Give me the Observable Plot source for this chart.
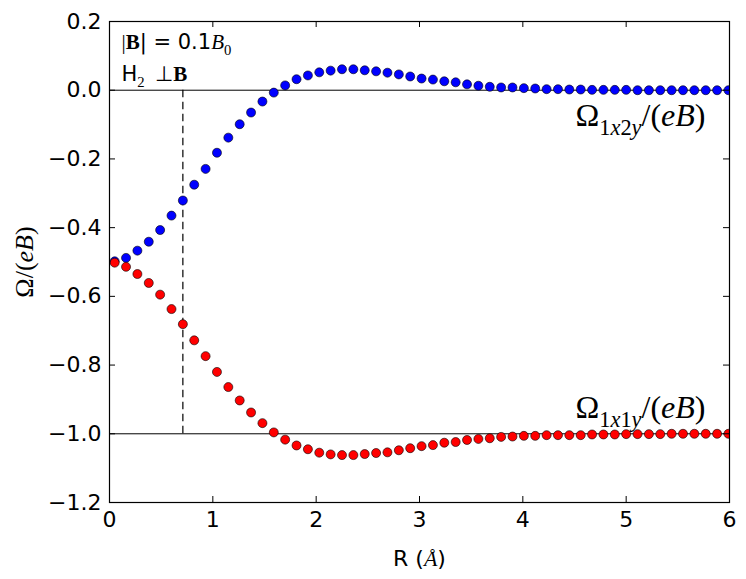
<!DOCTYPE html>
<html><head><meta charset="utf-8">
<script src="https://cdn.jsdelivr.net/npm/d3@7"></script>
<script src="https://cdn.jsdelivr.net/npm/@observablehq/plot@0.6"></script>
<style>body{margin:0;background:#fff} svg{display:block}</style>
</head><body><div id="chart"></div>
<script>
// Bond length R (Å)
const R = [0.05,0.16,0.27,0.38,0.49,0.60,0.71,0.82,0.93,1.04,1.15,1.26,1.37,1.48,1.59,1.70,1.81,1.92,2.03,2.14,2.25,2.36,2.47,2.58,2.69,2.80,2.91,3.02,3.13,3.24,3.35,3.46,3.57,3.68,3.79,3.90,4.01,4.12,4.23,4.34,4.45,4.56,4.67,4.78,4.89,5.00,5.11,5.22,5.33,5.44,5.55,5.66,5.77,5.88,5.99];
// Omega_1x2y/(eB) (blue)
const omega1x2y = [-0.498,-0.488,-0.467,-0.441,-0.407,-0.365,-0.321,-0.275,-0.229,-0.182,-0.138,-0.099,-0.065,-0.033,-0.007,0.014,0.032,0.043,0.052,0.057,0.061,0.061,0.058,0.055,0.051,0.046,0.040,0.034,0.031,0.026,0.023,0.017,0.013,0.010,0.008,0.008,0.006,0.005,0.003,0.003,0.002,0.002,0.001,0.001,0.001,0.001,0.000,0.000,0.000,0.000,0.000,0.000,0.000,0.000,0.000];
// Omega_1x1y/(eB) (red)
const omega1x1y = [-0.502,-0.514,-0.535,-0.561,-0.595,-0.637,-0.681,-0.728,-0.774,-0.820,-0.864,-0.903,-0.938,-0.969,-0.996,-1.017,-1.034,-1.045,-1.055,-1.060,-1.062,-1.062,-1.059,-1.056,-1.054,-1.048,-1.042,-1.036,-1.033,-1.026,-1.024,-1.018,-1.015,-1.013,-1.009,-1.008,-1.006,-1.006,-1.004,-1.004,-1.004,-1.004,-1.002,-1.002,-1.002,-1.001,-1.001,-1.001,-1.001,-1.000,-1.000,-1.000,-1.000,-1.000,-1.000];
const xTicks = [0,1,2,3,4,5,6];
const yTicks = [0.2,0.0,-0.2,-0.4,-0.6,-0.8,-1.0,-1.2];
const refLines = [0,-1];
const bondLength = [0.71];

const blue = R.map((r,i)=>({R:r, v:omega1x2y[i]}));
const red = R.map((r,i)=>({R:r, v:omega1x1y[i]}));
const fmtY = d => d.toFixed(1).replace("-", "\u2212");

const W = 746, H = 579, ML = 109, MR = 17, MT = 21, MB = 77;
const PW = W - ML - MR, PH = H - MT - MB, TL = 6;

const chart = Plot.plot({
  width: W, height: H,
  marginLeft: ML, marginRight: MR, marginTop: MT, marginBottom: MB,
  style: {fontFamily: "DejaVu Sans", fontSize: "22px", background: "#fff", color: "#000"},
  x: {domain: [0, 6]},
  y: {domain: [-1.2, 0.2]},
  marks: [
    Plot.ruleY(refLines, {stroke: "black", strokeWidth: 1}),
    Plot.ruleX(bondLength, {y1: 0, y2: -1, stroke: "black", strokeWidth: 1.2, strokeDasharray: "7.5,4.5"}),
    Plot.dot(blue, {x: "R", y: "v", r: 4.5, fill: "#0000ff", stroke: "black", strokeWidth: 0.6, clip: true}),
    Plot.dot(red, {x: "R", y: "v", r: 4.5, fill: "#ff0000", stroke: "black", strokeWidth: 0.6, clip: true}),
    // inward ticks on all four sides
    Plot.ruleX(xTicks, {insetTop: PH - TL, stroke: "black", strokeWidth: 1}),
    Plot.ruleX(xTicks, {insetBottom: PH - TL, stroke: "black", strokeWidth: 1}),
    Plot.ruleY(yTicks, {insetRight: PW - TL, stroke: "black", strokeWidth: 1}),
    Plot.ruleY(yTicks, {insetLeft: PW - TL, stroke: "black", strokeWidth: 1}),
    Plot.frame({stroke: "black", strokeWidth: 1.2}),
    Plot.axisX(xTicks, {anchor: "bottom", tickSize: 0, tickPadding: 9, tickFormat: d => String(d), label: null, fontSize: 22}),
    Plot.axisY(yTicks, {anchor: "left", tickSize: 0, tickPadding: 8, tickFormat: fmtY, label: null, fontSize: 22}),
    Plot.text(["Ω/(eB)"], {frameAnchor: "left", rotate: -90, dx: -85, textAnchor: "middle", lineAnchor: "middle", className: "ylab"}),
    Plot.text(["R (Å)"], {frameAnchor: "bottom", dy: 56, textAnchor: "middle", lineAnchor: "middle", className: "xlab"}),
    Plot.text(["|B| = 0.1B0"], {frameAnchor: "top-left", dx: 12, dy: 21, textAnchor: "start", lineAnchor: "middle", className: "ann1"}),
    Plot.text(["H2 ⊥B"], {frameAnchor: "top-left", dx: 12, dy: 53, textAnchor: "start", lineAnchor: "middle", className: "ann2"}),
    Plot.text(["Ω1x2y/(eB)"], {frameAnchor: "top-right", dx: -24, dy: 94, textAnchor: "end", lineAnchor: "middle", className: "lab12"}),
    Plot.text(["Ω1x1y/(eB)"], {frameAnchor: "top-right", dx: -24, dy: 386, textAnchor: "end", lineAnchor: "middle", className: "lab11"})
  ]
});
document.getElementById("chart").appendChild(chart);

const SERIF = "Liberation Serif";
function rich(cls, size, parts) {
  const t = d3.select(chart).select("g." + cls + " text");
  t.text(null).attr("font-size", size);
  let shift = 0;
  parts.forEach(p => {
    const ts = t.append("tspan").text(p.t);
    if (p.f) ts.attr("font-family", p.f);
    if (p.i) ts.attr("font-style", "italic");
    if (p.b) ts.attr("font-weight", "bold");
    const target = p.sub ? 0.28 * size : 0;
    ts.attr("dy", target - shift);
    shift = target;
    if (p.sub) ts.attr("font-size", size * 0.7);
  });
}
rich("ylab", 26, [{t: "Ω/(", f: SERIF}, {t: "eB", f: SERIF, i: true}, {t: ")", f: SERIF}]);
rich("xlab", 22, [{t: "R ("}, {t: "Å", f: SERIF, i: true}, {t: ")"}]);
rich("ann1", 21, [{t: "|", f: SERIF}, {t: "B", f: SERIF, b: true}, {t: "| = 0.1"}, {t: "B", f: SERIF, i: true}, {t: "0", f: SERIF, sub: true}]);
rich("ann2", 21, [{t: "H"}, {t: "2", f: SERIF, sub: true}, {t: " \u00a0⊥", f: SERIF}, {t: "B", f: SERIF, b: true}]);
rich("lab12", 32, [{t: "Ω", f: SERIF}, {t: "1", f: SERIF, sub: true}, {t: "x", f: SERIF, i: true, sub: true}, {t: "2", f: SERIF, sub: true}, {t: "y", f: SERIF, i: true, sub: true}, {t: "/(", f: SERIF}, {t: "eB", f: SERIF, i: true}, {t: ")", f: SERIF}]);
rich("lab11", 32, [{t: "Ω", f: SERIF}, {t: "1", f: SERIF, sub: true}, {t: "x", f: SERIF, i: true, sub: true}, {t: "1", f: SERIF, sub: true}, {t: "y", f: SERIF, i: true, sub: true}, {t: "/(", f: SERIF}, {t: "eB", f: SERIF, i: true}, {t: ")", f: SERIF}]);
</script>
</body></html>
